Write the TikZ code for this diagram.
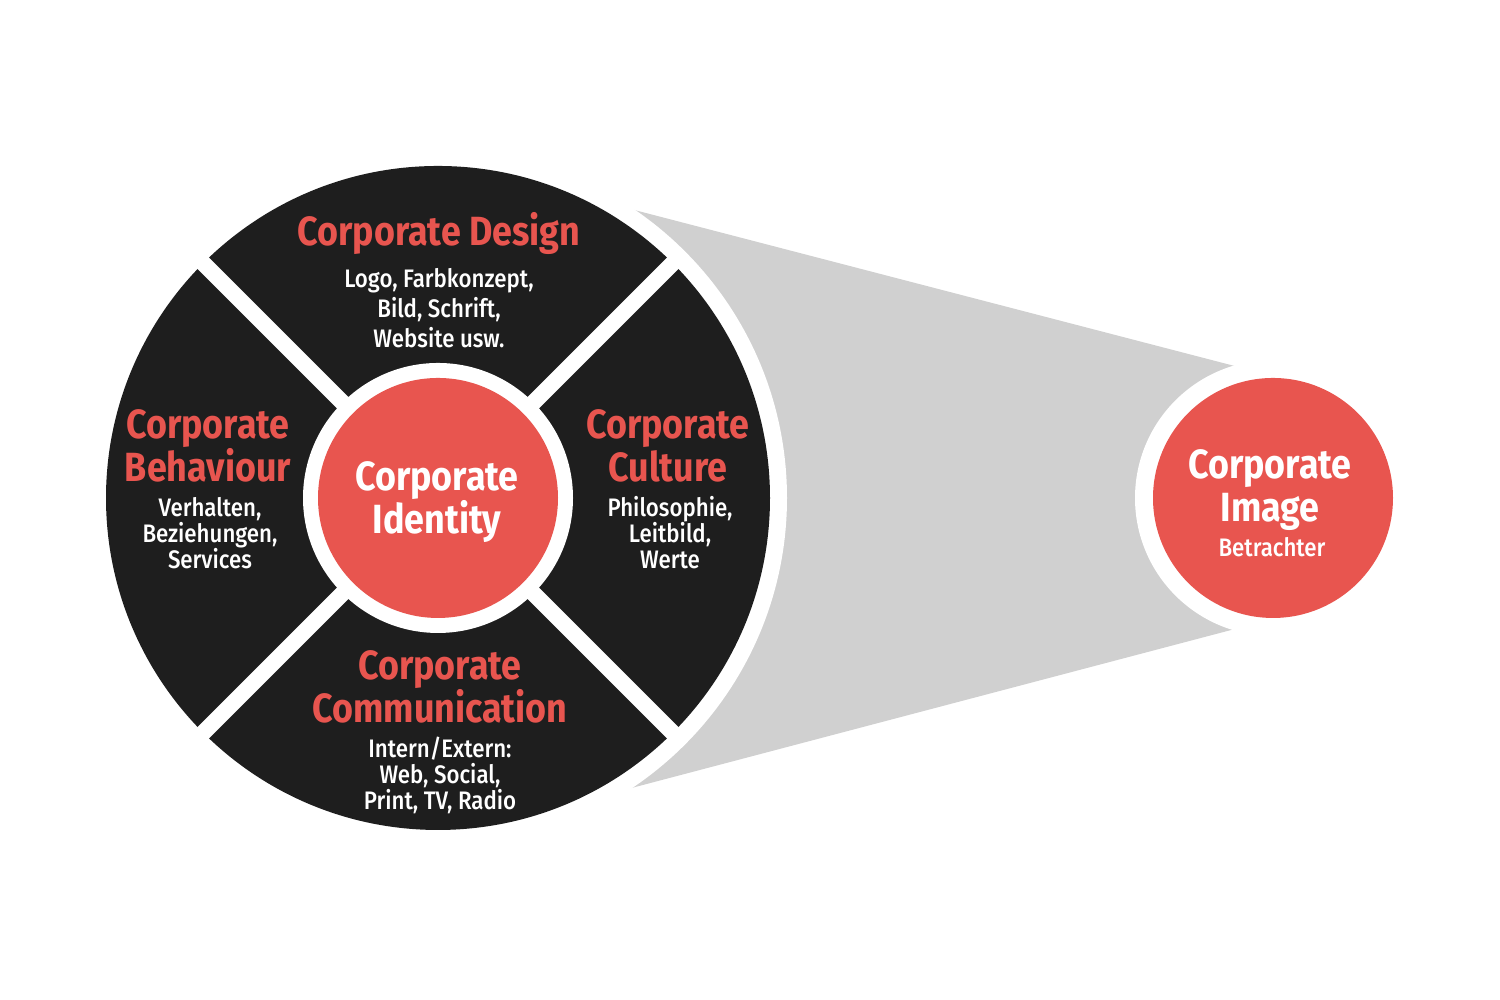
\documentclass[tikz,border=0pt]{standalone}
\usepackage{fontspec}
\setmainfont{Fira Sans}[FakeStretch=0.88]
\newfontfamily\medfont{Fira Sans Medium}[FakeStretch=0.88]
\definecolor{ciblack}{HTML}{1E1E1E}
\definecolor{cired}{HTML}{E8554F}
\definecolor{cigrey}{HTML}{D0D0D0}

\begin{document}
\begin{tikzpicture}[
    title/.style={text=cired,font=\fontsize{11.6}{12.2}\selectfont\bfseries,align=center,inner sep=0pt},
    core/.style={title,text=white},
    sub/.style={text=white,font=\medfont\fontsize{7.2}{7.4}\selectfont,align=center,inner sep=0pt},
    gap/.style={white,line width=0.16cm}]
    \useasboundingbox (0,0) rectangle (15,10);
    \coordinate (ci) at (4.38,5.02);
    \coordinate (img) at (12.73,5.02);
    % cone
    \fill[cigrey] (4.38,8.41) -- (12.73,6.24) -- (12.73,3.81) -- (4.38,1.61) -- cycle;
    % wheel
    \fill[white] (ci) circle (3.49);
    \fill[ciblack] (ci) circle (3.32);
    \draw[gap] ([shift={(45:3.4)}]ci) -- ([shift={(225:3.4)}]ci);
    \draw[gap] ([shift={(135:3.4)}]ci) -- ([shift={(315:3.4)}]ci);
    \fill[white] (ci) circle (1.35);
    \fill[cired] (ci) circle (1.20);
    % image
    \fill[white] (img) circle (1.38);
    \fill[cired] (img) circle (1.20);

    \node[title] (design) at (4.39,7.66) {Corporate Design};
    \node[sub,font=\medfont\fontsize{7.2}{8.5}\selectfont] (designtxt) at (4.39,6.92) {Logo, Farbkonzept,\\Bild, Schrift,\\Website usw.};
    \node[title] (behav) at (2.08,5.54) {Corporate\\Behaviour};
    \node[sub] (behavtxt) at (2.10,4.67) {Verhalten,\\Beziehungen,\\Services};
    \node[title] (cult) at (6.68,5.54) {Corporate\\Culture};
    \node[sub] (culttxt) at (6.70,4.67) {Philosophie,\\Leitbild,\\Werte};
    \node[title] (comm) at (4.40,3.13) {Corporate\\Communication};
    \node[sub] (commtxt) at (4.40,2.25) {Intern/Extern:\\Web, Social,\\Print, TV, Radio};
    \node[core] (ident) at (4.37,4.98) {Corporate\\Identity};
    \node[core] (image) at (12.70,5.10) {Corporate\\Image};
    \node[sub] (viewer) at (12.72,4.53) {Betrachter};
\end{tikzpicture}
\end{document}
